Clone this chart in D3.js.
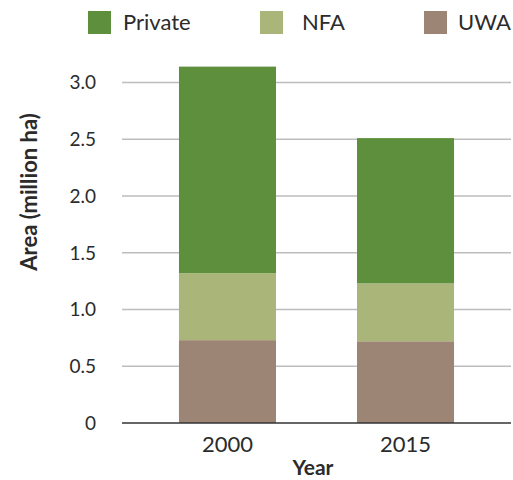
<!DOCTYPE html>
<html>
<head>
<meta charset="utf-8">
<title>Area by owner</title>
<style>
  body { margin: 0; background: #fff; }
  text { font-family: Lato, "Open Sans", sans-serif; fill: #2b2b2b; }
</style>
</head>
<body>
<div class="plot_container"></div>
<script src="https://cdn.jsdelivr.net/npm/d3@7"></script>
<script>
// data
var years = ["2000", "2015"];
var seriesNames = ["UWA", "NFA", "Private"];   // bottom to top
var uwa = [0.73, 0.72];
var nfa = [0.59, 0.51];
var priv = [1.82, 1.28];
var yTicks = [0, 0.5, 1.0, 1.5, 2.0, 2.5, 3.0];
var legendOrder = ["Private", "NFA", "UWA"];

var colors = { Private: "#5e8f3c", NFA: "#aab57a", UWA: "#9c8575" };

var width = 513, height = 480;
var svg = d3.select(".plot_container").append("svg")
    .attr("width", width)
    .attr("height", height);

var rows = years.map(function (y, i) {
    return { year: y, UWA: uwa[i], NFA: nfa[i], Private: priv[i] };
});
var stacked = d3.stack().keys(seriesNames)(rows);

var x = d3.scaleBand()
    .domain(years)
    .range([122, 511])
    .paddingInner(0.455)
    .paddingOuter(0.32);

var y = d3.scaleLinear()
    .domain([0, 3])
    .range([423, 82.5]);

// gridlines
svg.append("g")
    .selectAll("line")
    .data(yTicks.filter(function (d) { return d > 0; }))
    .enter()
    .append("line")
    .attr("x1", 122).attr("x2", 511)
    .attr("y1", function (d) { return y(d); })
    .attr("y2", function (d) { return y(d); })
    .attr("stroke", "#bdbdbd")
    .attr("stroke-width", 1.3);

// bars
svg.append("g")
    .selectAll("g")
    .data(stacked)
    .enter()
    .append("g")
    .attr("fill", function (d) { return colors[d.key]; })
    .selectAll("rect")
    .data(function (d) { return d; })
    .enter()
    .append("rect")
    .attr("x", function (d) { return x(d.data.year); })
    .attr("width", x.bandwidth())
    .attr("y", function (d) { return y(d[1]); })
    .attr("height", function (d) { return y(d[0]) - y(d[1]); });

// baseline
svg.append("line")
    .attr("x1", 122).attr("x2", 511)
    .attr("y1", y(0)).attr("y2", y(0))
    .attr("stroke", "#333")
    .attr("stroke-width", 1.5);

// y tick labels
svg.append("g")
    .selectAll("text")
    .data(yTicks)
    .enter()
    .append("text")
    .attr("x", 96)
    .attr("y", function (d) { return y(d); })
    .attr("dy", "0.36em")
    .attr("text-anchor", "end")
    .style("font-size", "19px")
    .text(function (d) { return d === 0 ? "0" : d3.format(".1f")(d); });

// x tick labels
svg.append("g")
    .selectAll("text")
    .data(years)
    .enter()
    .append("text")
    .attr("x", function (d) { return x(d) + x.bandwidth() / 2; })
    .attr("y", 452)
    .attr("text-anchor", "middle")
    .style("font-size", "22px")
    .text(function (d) { return d; });

// axis titles
svg.append("text")
    .attr("x", 313).attr("y", 475)
    .attr("text-anchor", "middle")
    .style("font-size", "21px")
    .style("font-weight", "bold")
    .text("Year");

svg.append("text")
    .attr("transform", "translate(37,192) rotate(-90)")
    .attr("text-anchor", "middle")
    .style("font-size", "22px")
    .style("font-weight", "bold")
    .text("Area (million ha)");

// legend
var legendX = [88, 260, 424];
var legend = svg.append("g")
    .selectAll("g")
    .data(legendOrder)
    .enter()
    .append("g")
    .attr("transform", function (d, i) { return "translate(" + legendX[i] + ",11)"; });

legend.append("rect")
    .attr("width", 23).attr("height", 23)
    .attr("fill", function (d) { return colors[d]; });

legend.append("text")
    .attr("x", function (d) { return d === "Private" ? 35 : (d === "NFA" ? 42 : 34); })
    .attr("y", 18.5)
    .style("font-size", "22px")
    .text(function (d) { return d; });
</script>
</body>
</html>
